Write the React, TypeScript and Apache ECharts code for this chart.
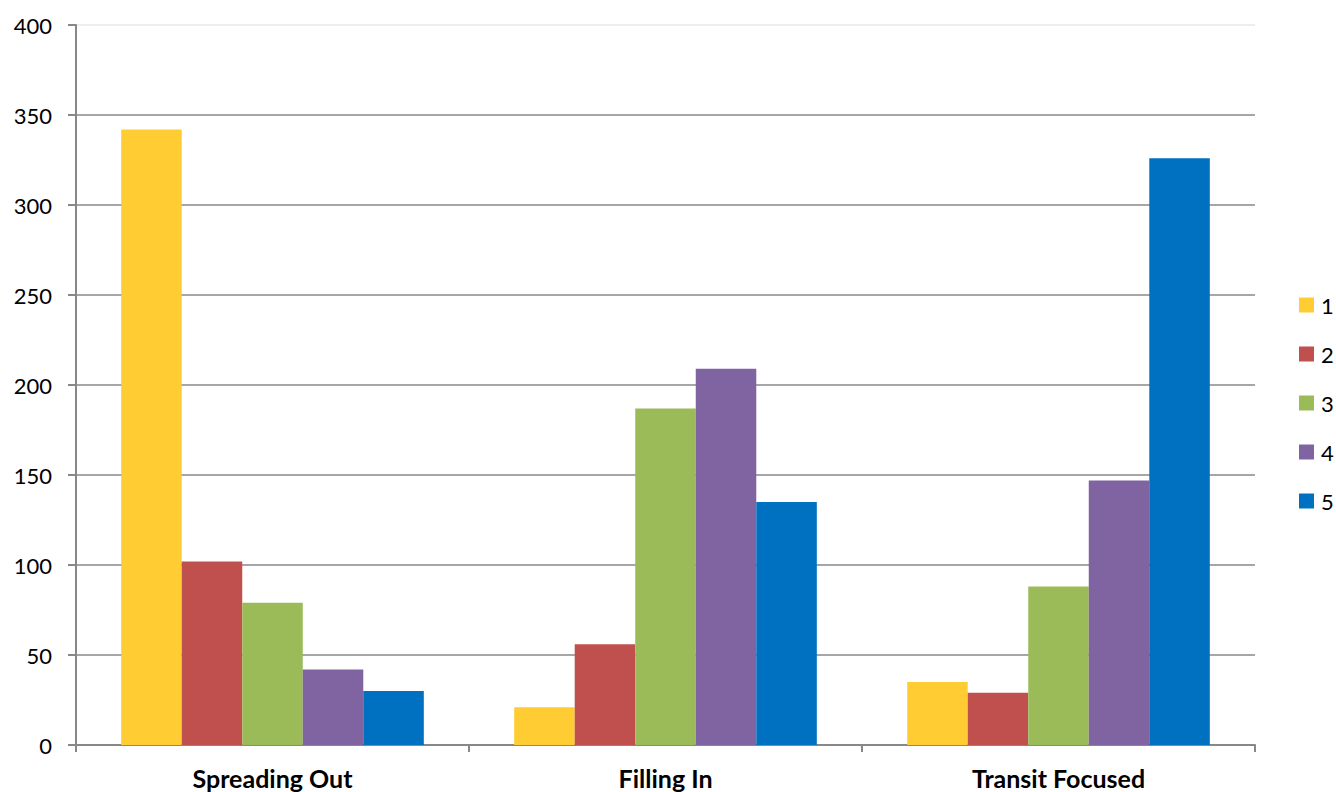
import React, { useEffect, useRef } from "react";
import * as echarts from "echarts";

const categories = ["Spreading Out", "Filling In", "Transit Focused"];
const seriesNames = ["1", "2", "3", "4", "5"];
const s1 = [342, 21, 35];
const s2 = [102, 56, 29];
const s3 = [79, 187, 88];
const s4 = [42, 209, 147];
const s5 = [30, 135, 326];
const seriesValues = [s1, s2, s3, s4, s5];
const colors = ["#FFCD33", "#C0504D", "#9BBB59", "#8064A2", "#0070C0"];

export default function App() {
  const ref = useRef<HTMLDivElement>(null);
  useEffect(() => {
    const chart = echarts.init(ref.current!, null, { renderer: "svg" });
    const font = "Lato, 'Open Sans', sans-serif";
    chart.setOption({
      animation: false,
      textStyle: { fontFamily: font },
      grid: { left: 76, right: 81, top: 25, bottom: 47, containLabel: false },
      legend: {
        orient: "vertical",
        left: 1299,
        top: 294,
        padding: 0,
        itemWidth: 15,
        itemHeight: 15,
        itemGap: 27,
        icon: "rect",
        textStyle: { fontSize: 22, color: "#000", fontFamily: font, padding: [0, 0, 0, 2] },
        data: seriesNames,
      },
      xAxis: {
        type: "category",
        data: categories,
        axisLine: { lineStyle: { color: "#888", width: 2 } },
        axisTick: { show: true, length: 7, lineStyle: { color: "#888", width: 2 } },
        axisLabel: { fontSize: 25, fontWeight: "bold", color: "#000", margin: 20, fontFamily: font },
      },
      yAxis: {
        type: "value",
        min: 0,
        max: 400,
        interval: 50,
        axisLine: { show: true, lineStyle: { color: "#888", width: 2 } },
        axisTick: { show: true, length: 8, lineStyle: { color: "#888", width: 2 } },
        axisLabel: { fontSize: 22, color: "#000", margin: 24, fontFamily: font },
        splitLine: {
          lineStyle: {
            color: ["#888", "#888", "#888", "#888", "#888", "#888", "#888", "#888", "#e8e8e8"],
            width: 1.5,
          },
        },
      },
      series: seriesValues.map((vals, i) => ({
        name: seriesNames[i],
        type: "bar",
        data: vals,
        barGap: "0%",
        barCategoryGap: "23%",
        itemStyle: { color: colors[i] },
      })),
    });
    return () => chart.dispose();
  }, []);
  return <div ref={ref} style={{ width: 1336, height: 792, position: "absolute", left: 0, top: 0 }} />;
}
